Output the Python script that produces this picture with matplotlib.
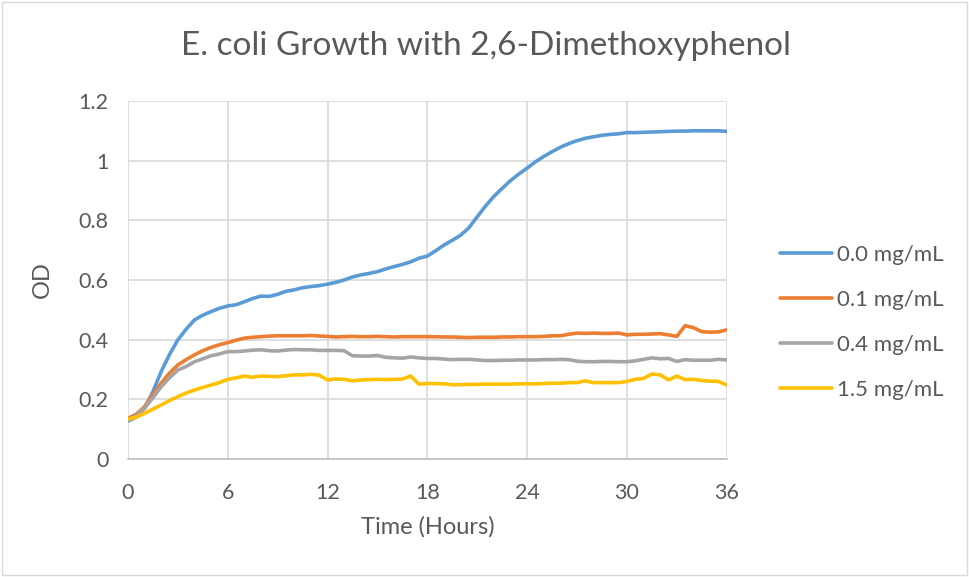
import numpy as np
import matplotlib
matplotlib.use('Agg')
import matplotlib.pyplot as plt
from matplotlib.ticker import FuncFormatter

hours = [i * 0.5 for i in range(73)]

od_00 = [0.127, 0.14, 0.17, 0.225, 0.293, 0.35, 0.399, 0.435, 0.466, 0.482,
         0.494, 0.505, 0.513, 0.517, 0.527, 0.538, 0.546, 0.545, 0.552, 0.562,
         0.567, 0.574, 0.578, 0.581, 0.586, 0.592, 0.600, 0.610, 0.617, 0.622,
         0.628, 0.637, 0.645, 0.652, 0.661, 0.673, 0.68, 0.698, 0.717, 0.733,
         0.75, 0.775, 0.812, 0.848, 0.88, 0.907, 0.933, 0.955, 0.975, 0.996,
         1.014, 1.03, 1.045, 1.057, 1.067, 1.075, 1.08, 1.085, 1.088, 1.09,
         1.094, 1.094, 1.095, 1.096, 1.097, 1.098, 1.099, 1.099, 1.1, 1.1,
         1.1, 1.1, 1.098]

od_01 = [0.136, 0.15, 0.175, 0.215, 0.254, 0.288, 0.315, 0.333, 0.349, 0.363,
         0.374, 0.383, 0.39, 0.398, 0.405, 0.408, 0.41, 0.412, 0.413, 0.413,
         0.413, 0.413, 0.414, 0.412, 0.411, 0.409, 0.41, 0.411, 0.41, 0.41,
         0.411, 0.41, 0.409, 0.41, 0.41, 0.41, 0.41, 0.41, 0.409, 0.409,
         0.408, 0.407, 0.408, 0.408, 0.408, 0.409, 0.409, 0.41, 0.41, 0.41,
         0.411, 0.413, 0.413, 0.418, 0.422, 0.421, 0.422, 0.421, 0.421, 0.422,
         0.416, 0.418, 0.418, 0.419, 0.42, 0.416, 0.411, 0.447, 0.44, 0.427,
         0.425, 0.426, 0.433]

od_04 = [0.13, 0.145, 0.17, 0.205, 0.242, 0.272, 0.298, 0.31, 0.326, 0.336,
         0.346, 0.352, 0.36, 0.36, 0.362, 0.365, 0.366, 0.363, 0.362, 0.365,
         0.367, 0.366, 0.366, 0.364, 0.364, 0.364, 0.363, 0.346, 0.345, 0.345,
         0.347, 0.341, 0.339, 0.338, 0.342, 0.339, 0.337, 0.337, 0.335, 0.333,
         0.334, 0.334, 0.332, 0.33, 0.33, 0.331, 0.331, 0.332, 0.332, 0.332,
         0.333, 0.333, 0.334, 0.333, 0.328, 0.326, 0.326, 0.327, 0.327, 0.326,
         0.326, 0.329, 0.334, 0.339, 0.336, 0.337, 0.327, 0.333, 0.331, 0.331,
         0.331, 0.334, 0.332]

od_15 = [0.133, 0.14, 0.153, 0.167, 0.181, 0.196, 0.209, 0.221, 0.231, 0.24,
         0.248, 0.256, 0.267, 0.272, 0.278, 0.274, 0.278, 0.277, 0.276, 0.279,
         0.282, 0.282, 0.284, 0.281, 0.265, 0.268, 0.267, 0.262, 0.265, 0.266,
         0.267, 0.266, 0.267, 0.268, 0.278, 0.251, 0.253, 0.253, 0.252, 0.249,
         0.249, 0.25, 0.25, 0.251, 0.251, 0.251, 0.251, 0.252, 0.252, 0.252,
         0.253, 0.254, 0.254, 0.256, 0.256, 0.262, 0.256, 0.256, 0.256, 0.256,
         0.26, 0.267, 0.27, 0.285, 0.282, 0.265, 0.278, 0.266, 0.267, 0.263,
         0.261, 0.26, 0.248]

labels = ['0.0 mg/mL', '0.1 mg/mL', '0.4 mg/mL', '1.5 mg/mL']
colors = ['#5B9BD5', '#ED7D31', '#A5A5A5', '#FFC000']

plt.rcParams['font.family'] = ['Lato', 'DejaVu Sans']
txt = '#595959'

fig = plt.figure(figsize=(9.69, 5.77), dpi=100)
ax = fig.add_axes([0.132, 0.2045, 0.618, 0.6205])

for y, lab, c in zip([od_00, od_01, od_04, od_15], labels, colors):
    ax.plot(hours, y, color=c, lw=2.6, label=lab, solid_capstyle='round')

ax.set_xlim(0, 36)
ax.set_ylim(0, 1.2)
ax.set_xticks(range(0, 37, 6))
ax.set_yticks(np.arange(0, 1.21, 0.2))
ax.yaxis.set_major_formatter(FuncFormatter(lambda v, p: f'{v:g}' if abs(v) > 1e-9 else '0'))
ax.grid(True, color='#D9D9D9', lw=1.2)
ax.set_axisbelow(True)
for s in ['top', 'right', 'left']:
    ax.spines[s].set_visible(False)
ax.spines['bottom'].set_color('#BFBFBF')
ax.spines['bottom'].set_linewidth(1.2)
ax.tick_params(length=0, labelsize=15.5, colors=txt)
ax.tick_params(axis='x', pad=17)
ax.tick_params(axis='y', pad=14)

ax.set_xlabel('Time (Hours)', fontsize=17, color=txt)
ax.xaxis.set_label_coords(0.5, -0.16)
ax.set_ylabel('OD', fontsize=17, color=txt)
ax.yaxis.set_label_coords(-0.125, 0.5)
fig.text(0.502, 0.920, 'E. coli Growth with 2,6-Dimethoxyphenol', fontsize=24,
         color=txt, ha='center', va='center')

leg = ax.legend(loc='center left', bbox_to_anchor=(0.796, 0.441), bbox_transform=fig.transFigure,
                borderaxespad=0, frameon=False, fontsize=16, handlelength=2.35,
                handletextpad=0.22, labelspacing=1.12, labelcolor=txt)

fig.patches.append(plt.Rectangle((0.002, 0.003), 0.996, 0.994, transform=fig.transFigure,
                                 fill=False, edgecolor='#D9D9D9', lw=1))

fig.savefig('out.png', dpi=100)
